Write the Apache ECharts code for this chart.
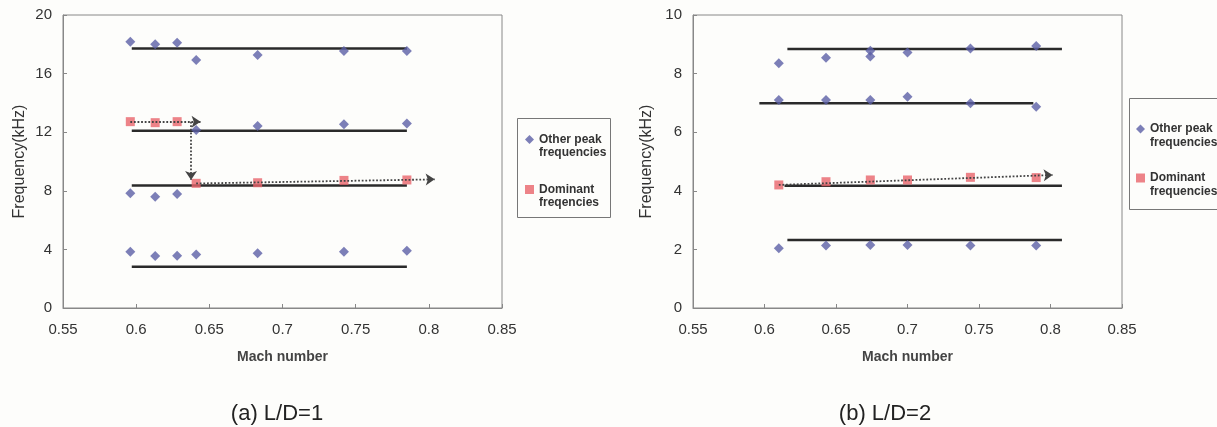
<!DOCTYPE html>
<html>
<head>
<meta charset="utf-8">
<script src="https://cdn.jsdelivr.net/npm/echarts@6/dist/echarts.min.js"></script>
<style>
html,body{margin:0;padding:0;background:#fdfdfb;}
#c{width:1217px;height:427px;}
</style>
</head>
<body>
<div id="c"></div>
<script>
// ---- data (a) L/D=1 ----
const xTicks = [0.55, 0.6, 0.65, 0.7, 0.75, 0.8, 0.85];
const otherPeakA = [[0.596,18.18],[0.613,18.0],[0.628,18.1],[0.641,16.93],[0.683,17.27],[0.742,17.54],[0.785,17.54],
  [0.641,12.15],[0.683,12.42],[0.742,12.54],[0.785,12.6],
  [0.596,7.83],[0.613,7.6],[0.628,7.78],
  [0.596,3.84],[0.613,3.55],[0.628,3.57],[0.641,3.66],[0.683,3.73],[0.742,3.84],[0.785,3.91]];
const dominantA = [[0.596,12.72],[0.613,12.65],[0.628,12.72],[0.641,8.51],[0.683,8.55],[0.742,8.71],[0.785,8.74]];
const levelLinesA = [[0.597,0.785,17.72],[0.597,0.785,12.1],[0.597,0.785,8.37],[0.597,0.785,2.82]];
const arrowsA = [[0.596,12.72,0.644,12.72],[0.6375,12.72,0.6375,8.74],[0.641,8.5,0.804,8.78]];
// ---- data (b) L/D=2 ----
const otherPeakB = [[0.610,8.35],[0.643,8.54],[0.674,8.58],[0.674,8.78],[0.700,8.72],[0.744,8.86],[0.790,8.94],
  [0.610,7.1],[0.643,7.1],[0.674,7.1],[0.700,7.21],[0.744,6.99],[0.790,6.87],
  [0.610,2.04],[0.643,2.13],[0.674,2.15],[0.700,2.15],[0.744,2.13],[0.790,2.13]];
const dominantB = [[0.610,4.2],[0.643,4.31],[0.674,4.37],[0.700,4.37],[0.744,4.46],[0.790,4.45]];
const levelLinesB = [[0.616,0.808,8.84],[0.5964,0.788,6.99],[0.614,0.808,4.17],[0.616,0.808,2.32]];
const arrowsB = [[0.610,4.2,0.8015,4.54]];
const captions = ['(a) L/D=1', '(b) L/D=2'];
const yMax = [20, 10], yStep = [4, 2];

const chart = echarts.init(document.getElementById('c'), null, {renderer:'canvas'});
const FONT = 'Liberation Sans, Arial, sans-serif';
const grids = [
  {left:63, top:15, width:439, height:293},
  {left:693, top:15, width:429, height:293}
];
const yNameGap = [35, 38];
function xAxis(i){
  return {gridIndex:i, type:'value', min:0.55, max:0.85, interval:0.05,
    name:'Mach number', nameLocation:'middle', nameGap:42,
    nameTextStyle:{fontFamily:FONT, fontSize:14, fontWeight:'bold', color:'#444'},
    axisLine:{lineStyle:{color:'#888'}}, axisTick:{inside:true, length:4, lineStyle:{color:'#888'}},
    axisLabel:{fontFamily:FONT, fontSize:15, color:'#333', margin:14,
      formatter:v=>String(+v.toFixed(2))},
    splitLine:{show:false}};
}
function yAxis(i){
  return {gridIndex:i, type:'value', min:0, max:yMax[i], interval:yStep[i],
    name:'Frequency(kHz)', nameLocation:'middle', nameGap:yNameGap[i],
    nameTextStyle:{fontFamily:FONT, fontSize:16, color:'#333'},
    axisLine:{lineStyle:{color:'#888'}}, axisTick:{inside:true, length:4, lineStyle:{color:'#888'}},
    axisLabel:{fontFamily:FONT, fontSize:15, color:'#333', margin:11},
    splitLine:{show:false}};
}
const series = [];
function addPanel(i, other, dom, domName, lines, arrows){
  lines.forEach((l,k)=>series.push({type:'line', name:'level'+i+k, xAxisIndex:i, yAxisIndex:i,
    data:[[l[0],l[2]],[l[1],l[2]]], showSymbol:false, symbol:'none', silent:true, z:2,
    lineStyle:{color:'#2a2a2a', width:2.5}}));
  series.push({type:'scatter', name:domName, xAxisIndex:i, yAxisIndex:i, data:dom,
    symbol:'rect', symbolSize:9, itemStyle:{color:'#e8646b'}, z:4,
    markLine:{silent:true, symbol:['none','arrow'], symbolSize:9, label:{show:false},
      itemStyle:{color:'#444'},
      lineStyle:{color:'#444', type:'dotted', width:1.8},
      data:arrows.map(a=>[{coord:[a[0],a[1]]},{coord:[a[2],a[3]]}])}});
  series.push({type:'scatter', name:'Other peak frequencies', xAxisIndex:i, yAxisIndex:i, data:other,
    symbol:'diamond', symbolSize:10, itemStyle:{color:'#5b5fa6'}, z:5});
}
addPanel(0, otherPeakA, dominantA, 'Dominant freqencies', levelLinesA, arrowsA);
addPanel(1, otherPeakB, dominantB, 'Dominant frequencies', levelLinesB, arrowsB);

function legend(left, top, gap, domName, lh){
  return {orient:'vertical', left:left, top:top, padding:0, itemGap:gap, itemWidth:9, itemHeight:9,
    selectedMode:false,
    data:[{name:'Other peak frequencies', icon:'diamond'},{name:domName, icon:'rect'}],
    formatter:n=>'\n'+n.replace(/ (fre)/,'\n$1'),
    textStyle:{fontFamily:FONT, fontSize:12, fontWeight:'bold', color:'#333', lineHeight:lh},
    itemStyle:{borderWidth:0}};
}
const option = {
  backgroundColor:'#fdfdfb',
  animation:false,
  grid:grids.map(g=>Object.assign({show:true, borderColor:'#888', borderWidth:1, backgroundColor:'transparent'}, g)),
  xAxis:[xAxis(0), xAxis(1)],
  yAxis:[yAxis(0), yAxis(1)],
  legend:[legend(525, 120, 11, 'Dominant freqencies', 13), legend(1136, 108, 7, 'Dominant frequencies', 14)],
  title:[
    {text:captions[0], left:272, top:398, textAlign:'center', textStyle:{fontFamily:FONT, fontSize:22, fontWeight:'normal', color:'#222'}},
    {text:captions[1], left:880, top:398, textAlign:'center', textStyle:{fontFamily:FONT, fontSize:22, fontWeight:'normal', color:'#222'}}
  ],
  graphic:[
    {type:'rect', shape:{x:517.5, y:118.5, width:93, height:99}, style:{fill:'none', stroke:'#777', lineWidth:1}, silent:true},
    {type:'rect', shape:{x:1129.5, y:98.5, width:100, height:111}, style:{fill:'none', stroke:'#777', lineWidth:1}, silent:true}
  ],
  series:series
};
chart.setOption(option);
</script>
</body>
</html>
